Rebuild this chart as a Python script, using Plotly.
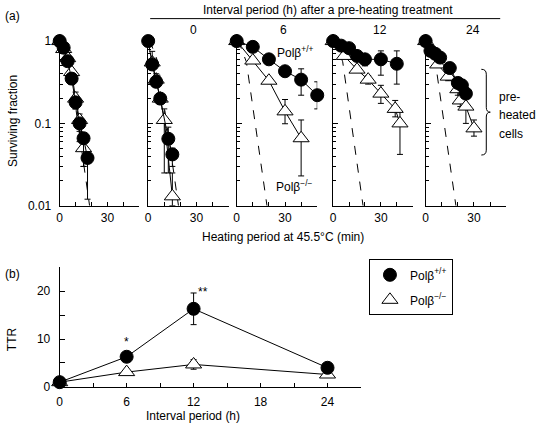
import plotly.graph_objects as go

# ---------------- data ----------------
# reference (non-pre-heated Polb-/-) dashed curve, same in every panel
ref_t = [0, 2, 6, 18.8]
ref_v = [1, 0.9, 0.56, 0.01]

# panel 1: non-pre-heated cells
p1_wt_t = [0, 2.5, 5, 7.5, 10, 12.5, 15, 17.5]
p1_wt_v = [1, 0.83, 0.57, 0.35, 0.18, 0.10, 0.066, 0.038]
p1_wt_lo = [1, 0.83, 0.5, 0.3, 0.15, 0.06, 0.03, 0.012]
p1_wt_hi = [1, 0.83, 0.6, 0.4, 0.2, 0.11, 0.07, 0.045]
p1_ko_t = [0, 2.5, 5, 7.5, 10, 12.5, 15]
p1_ko_v = [1, 0.8, 0.62, 0.42, 0.2, 0.11, 0.05]
p1_ko_lo = [1, 0.8, 0.55, 0.3, 0.15, 0.08, 0.03]
p1_ko_hi = [1, 0.8, 0.66, 0.46, 0.24, 0.13, 0.06]

# panel 2: interval 0 h
p2_wt_t = [0, 2.5, 5, 7.5, 12.5, 15]
p2_wt_v = [1, 0.52, 0.32, 0.2, 0.065, 0.042]
p2_wt_lo = [1, 0.45, 0.28, 0.17, 0.025, 0.03]
p2_wt_hi = [1, 0.75, 0.4, 0.22, 0.09, 0.05]
p2_ko_t = [2.5, 5, 7.5, 10, 15]
p2_ko_v = [0.55, 0.34, 0.2, 0.11, 0.013]
p2_ko_lo = [0.5, 0.3, 0.18, 0.025, 0.01]
p2_ko_hi = [0.6, 0.38, 0.22, 0.15, 0.025]

# panel 3: interval 6 h
p3_wt_t = [0, 10, 20, 30, 40, 50]
p3_wt_v = [1, 0.85, 0.6, 0.43, 0.34, 0.22]
p3_wt_lo = [1, 0.85, 0.6, 0.43, 0.22, 0.15]
p3_wt_hi = [1, 0.85, 0.6, 0.43, 0.46, 0.32]
p3_ko_t = [0, 10, 20, 30, 40]
p3_ko_v = [1, 0.58, 0.33, 0.14, 0.066]
p3_ko_lo = [1, 0.58, 0.33, 0.099, 0.023]
p3_ko_hi = [1, 0.58, 0.33, 0.195, 0.11]

# panel 4: interval 12 h
p4_wt_t = [0, 5, 10, 15, 20, 30, 40]
p4_wt_v = [1, 0.88, 0.82, 0.66, 0.6, 0.6, 0.53]
p4_wt_lo = [1, 0.8, 0.75, 0.6, 0.5, 0.385, 0.3]
p4_wt_hi = [1, 0.9, 0.85, 0.7, 0.66, 0.76, 0.76]
p4_ko_t = [0, 7, 15, 22, 30, 39, 42]
p4_ko_v = [1, 0.66, 0.45, 0.34, 0.23, 0.15, 0.1]
p4_ko_lo = [1, 0.66, 0.42, 0.3, 0.175, 0.12, 0.042]
p4_ko_hi = [1, 0.66, 0.5, 0.38, 0.29, 0.19, 0.14]

# panel 5: interval 24 h
p5_wt_t = [0, 3, 6, 9, 15, 20, 22.5, 25]
p5_wt_v = [1, 0.76, 0.7, 0.63, 0.47, 0.31, 0.29, 0.23]
p5_wt_lo = [1, 0.72, 0.66, 0.58, 0.42, 0.27, 0.25, 0.2]
p5_wt_hi = [1, 0.8, 0.74, 0.68, 0.52, 0.36, 0.34, 0.27]
p5_ko_t = [0, 7.5, 14, 20, 21.5, 25, 30]
p5_ko_v = [1, 0.52, 0.37, 0.26, 0.19, 0.16, 0.087]
p5_ko_lo = [1, 0.48, 0.33, 0.22, 0.16, 0.1, 0.07]
p5_ko_hi = [1, 0.56, 0.41, 0.3, 0.22, 0.2, 0.11]

# panel (b): thermotolerance ratio
interval_h = [0, 6, 12, 24]
ttr_wt = [1, 6.3, 16.3, 4.0]
ttr_wt_err = [0, 0, 3.3, 0]
ttr_ko = [1, 3.1, 4.7, 2.6]
ttr_ko_err = [0, 0, 1.0, 0]

x_ticks_a = [0, 30]
x_minor_a = [10, 20, 40, 50]
y_ticks_a = [0.01, 0.1, 1]
y_ticklabels_a = ["0.01", "0.1", "1"]
y_minor_a = [0.02, 0.03, 0.04, 0.05, 0.06, 0.07, 0.08, 0.09,
             0.2, 0.3, 0.4, 0.5, 0.6, 0.7, 0.8, 0.9]
x_ticks_b = [0, 6, 12, 18, 24]
x_minor_b = [3, 9, 15, 21, 27]
y_ticks_b = [0, 10, 20]
y_minor_b = [5, 15, 25]

interval_labels = ["0", "6", "12", "24"]

# ---------------- layout helpers ----------------
W, H = 538, 431
FONT = "Liberation Sans, Arial, sans-serif"


def px(x):
    return x / W


def py(y):
    return 1 - y / H


panels = [
    (p1_wt_t, p1_wt_v, p1_wt_lo, p1_wt_hi, p1_ko_t, p1_ko_v, p1_ko_lo, p1_ko_hi),
    (p2_wt_t, p2_wt_v, p2_wt_lo, p2_wt_hi, p2_ko_t, p2_ko_v, p2_ko_lo, p2_ko_hi),
    (p3_wt_t, p3_wt_v, p3_wt_lo, p3_wt_hi, p3_ko_t, p3_ko_v, p3_ko_lo, p3_ko_hi),
    (p4_wt_t, p4_wt_v, p4_wt_lo, p4_wt_hi, p4_ko_t, p4_ko_v, p4_ko_lo, p4_ko_hi),
    (p5_wt_t, p5_wt_v, p5_wt_lo, p5_wt_hi, p5_ko_t, p5_ko_v, p5_ko_lo, p5_ko_hi),
]
x_dom_px = [(57, 137), (146, 227), (235, 316), (332, 412), (425, 506)]
ya_top, ya_bot = 35.5, 207

fig = go.Figure()

circle = dict(symbol="circle", size=13, color="black", line=dict(color="black", width=1))
tri = dict(symbol="triangle-up", size=14, color="white", line=dict(color="black", width=1))


def err(v, lo, hi):
    return dict(type="data", symmetric=False,
                array=[h - a for a, h in zip(v, hi)],
                arrayminus=[a - l for a, l in zip(v, lo)],
                thickness=1, width=3, color="black")


layout_axes = {}
for i, (wt_t, wt_v, wt_lo, wt_hi, ko_t, ko_v, ko_lo, ko_hi) in enumerate(panels):
    s = "" if i == 0 else str(i + 1)
    xa, ya = "x" + s, "y" + s
    fig.add_trace(go.Scatter(x=ref_t, y=ref_v, mode="lines", xaxis=xa, yaxis=ya,
                             line=dict(color="black", width=1, dash="dash"),
                             showlegend=False, cliponaxis=False))
    fig.add_trace(go.Scatter(x=ko_t, y=ko_v, mode="lines+markers", xaxis=xa, yaxis=ya,
                             line=dict(color="black", width=1), marker=tri,
                             error_y=err(ko_v, ko_lo, ko_hi),
                             showlegend=False, cliponaxis=False))
    fig.add_trace(go.Scatter(x=wt_t, y=wt_v, mode="lines+markers", xaxis=xa, yaxis=ya,
                             line=dict(color="black", width=1), marker=circle,
                             error_y=err(wt_v, wt_lo, wt_hi),
                             showlegend=False, cliponaxis=False))
    a, b = x_dom_px[i]
    layout_axes["xaxis" + s] = dict(
        domain=[px(a), px(b)], range=[0, 50], anchor=ya,
        showline=True, linecolor="black", linewidth=1, mirror=False,
        ticks="inside", ticklen=4, tickcolor="black", tickwidth=1,
        tickvals=x_ticks_a, ticktext=[str(v) for v in x_ticks_a],
        minor=dict(tickvals=x_minor_a, ticks="inside", ticklen=4, tickcolor="black"),
        showgrid=False, zeroline=False, ticklabelstandoff=1,
        tickfont=dict(size=12, color="black", family=FONT))
    layout_axes["yaxis" + s] = dict(
        type="log", domain=[py(ya_bot), py(ya_top)], range=[-2, 0.03], anchor=xa,
        showline=True, linecolor="black", linewidth=1,
        ticks="inside", ticklen=5, tickcolor="black", tickwidth=1,
        tickvals=y_ticks_a, ticktext=y_ticklabels_a, showticklabels=(i == 0),
        minor=dict(tickvals=y_minor_a, ticks="inside", ticklen=3, tickcolor="black"),
        showgrid=False, zeroline=False, ticklabelstandoff=5,
        tickfont=dict(size=12, color="black", family=FONT))

# panel (b)
fig.add_trace(go.Scatter(x=interval_h, y=ttr_ko, mode="lines+markers", xaxis="x6", yaxis="y6",
                         line=dict(color="black", width=1), marker=tri,
                         error_y=dict(type="data", array=ttr_ko_err, thickness=1, width=3, color="black"),
                         showlegend=False, cliponaxis=False))
fig.add_trace(go.Scatter(x=interval_h, y=ttr_wt, mode="lines+markers", xaxis="x6", yaxis="y6",
                         line=dict(color="black", width=1), marker=circle,
                         error_y=dict(type="data", array=ttr_wt_err, thickness=1, width=3, color="black"),
                         showlegend=False, cliponaxis=False))
fig.add_trace(go.Scatter(x=[None], y=[None], mode="markers", xaxis="x6", yaxis="y6",
                         marker=circle, name="Polβ<sup>+/+</sup>", legendgroup="wt"))
fig.add_trace(go.Scatter(x=[None], y=[None], mode="markers", xaxis="x6", yaxis="y6",
                         marker=tri, name="Polβ<sup>−/−</sup>", legendgroup="ko"))

layout_axes["xaxis6"] = dict(
    domain=[px(57), px(360)], range=[0, 27], anchor="y6",
    showline=True, linecolor="black", linewidth=1,
    ticks="inside", ticklen=4, tickcolor="black",
    tickvals=x_ticks_b, ticktext=[str(v) for v in x_ticks_b],
    minor=dict(tickvals=x_minor_b, ticks="inside", ticklen=4, tickcolor="black"),
    showgrid=False, zeroline=False, ticklabelstandoff=4,
    tickfont=dict(size=12, color="black", family=FONT))
layout_axes["yaxis6"] = dict(
    domain=[py(393), py(270)], range=[0, 25], anchor="x6",
    showline=True, linecolor="black", linewidth=1,
    ticks="inside", ticklen=5, tickcolor="black",
    tickvals=y_ticks_b, ticktext=[str(v) for v in y_ticks_b],
    minor=dict(tickvals=y_minor_b, ticks="inside", ticklen=5, tickcolor="black"),
    showgrid=False, zeroline=False, ticklabelstandoff=6,
    tickfont=dict(size=12, color="black", family=FONT))


def txt(x, y, t, size=12, xanchor="center", angle=0):
    return dict(x=px(x), y=py(y), xref="paper", yref="paper", text=t, showarrow=False,
                xanchor=xanchor, yanchor="middle", textangle=angle,
                font=dict(size=size, color="black", family=FONT))


annotations = [
    txt(0, 12, "(a)", xanchor="left"),
    txt(0, 277, "(b)", xanchor="left"),
    txt(327, 6, "Interval period (h) after a pre-heating treatment"),
    txt(10, 120, "Surviving fraction", angle=-90),
    txt(282, 239, "Heating period at 45.5°C (min)"),
    txt(9, 344, "TTR", angle=-90),
    txt(191, 423, "Interval period (h)"),
    txt(274, 49, "Polβ<sup>+/+</sup>", xanchor="left"),
    txt(273, 187, "Polβ<sup>−/−</sup>", xanchor="left"),
    txt(497, 95, "pre-", xanchor="left"),
    txt(497, 114, "heated", xanchor="left"),
    txt(497, 133, "cells", xanchor="left"),
    txt(124, 347, "*"),
    txt(201, 296, "**"),
]
for xc, lab in zip([192, 282, 379, 473], interval_labels):
    annotations.append(txt(xc, 27, lab))


def P(x, y):
    return f"{px(x):.5f},{py(y):.5f}"


brace = ("M " + P(481, 67) + " Q " + P(486, 67) + " " + P(486, 72) +
         " L " + P(486, 106) + " Q " + P(486, 111) + " " + P(490, 111) +
         " Q " + P(486, 111) + " " + P(486, 116) +
         " L " + P(486, 150) + " Q " + P(486, 155) + " " + P(481, 155))

shapes = [
    dict(type="line", xref="paper", yref="paper", x0=px(148), x1=px(500),
         y0=py(15), y1=py(15), line=dict(color="black", width=1)),
    dict(type="path", xref="paper", yref="paper", path=brace,
         line=dict(color="black", width=1)),
]

fig.update_layout(
    width=W, height=H, margin=dict(l=0, r=0, t=0, b=0),
    paper_bgcolor="white", plot_bgcolor="white",
    font=dict(family=FONT, size=12, color="black"),
    annotations=annotations, shapes=shapes,
    showlegend=True,
    legend=dict(x=px(368), y=py(262), xanchor="left", yanchor="top",
                bordercolor="black", borderwidth=1, bgcolor="white",
                font=dict(size=12, color="black", family=FONT),
                itemwidth=30, tracegroupgap=6),
    **layout_axes,
)

fig.write_html("out.html",
               config={"staticPlot": True, "displayModeBar": False},
               post_script="document.body.style.margin='0';document.body.style.overflow='hidden';")
